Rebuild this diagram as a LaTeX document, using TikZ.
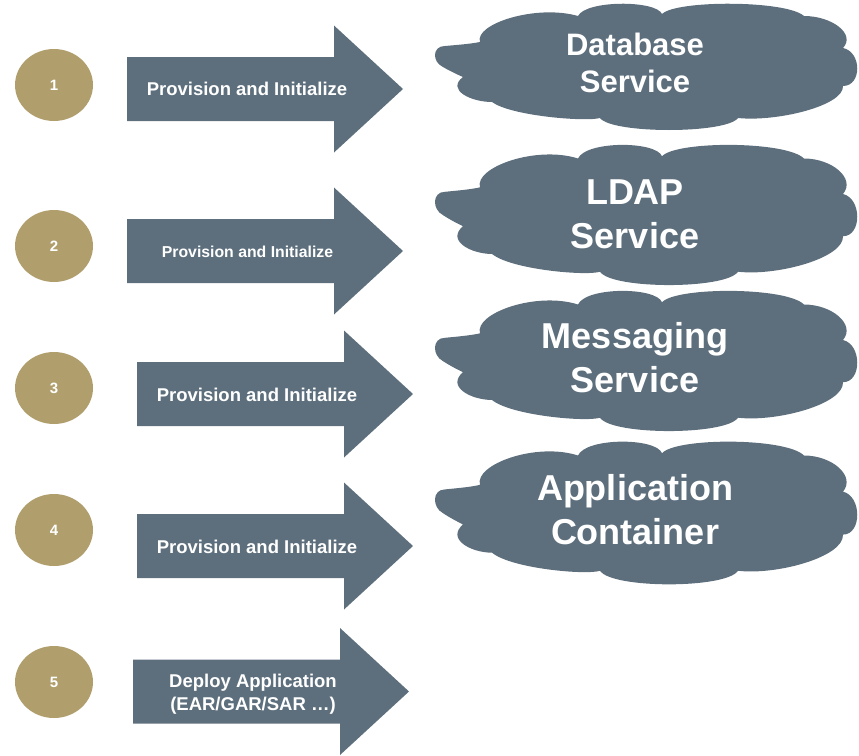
\documentclass[tikz,border=0pt]{standalone}
\usepackage{fontspec}
\setmainfont{Liberation Sans}
\usetikzlibrary{shapes.geometric}
\definecolor{slate}{RGB}{93,111,125}
\definecolor{goldtan}{RGB}{176,159,109}
\tikzset{
  cloudpic/.pic={\fill[slate] (-183,11)
     .. controls (-190,8) and (-198,4) .. (-203,1)
     .. controls (-214,-4) and (-214,-20) .. (-201,-20)
     .. controls (-190,-21) and (-176,-22) .. (-166,-24)
     .. controls (-172,-42) and (-110,-62) .. (-68,-50)
     .. controls (-60,-66) and (10,-66) .. (16,-52)
     .. controls (30,-66) and (140,-66) .. (158,-50)
     .. controls (186,-50) and (210,-32) .. (197,-18)
     .. controls (216,-14) and (216,20) .. (197,20)
     .. controls (198,40) and (130,56) .. (92,52)
     .. controls (80,68) and (-34,68) .. (-46,52)
     .. controls (-60,56) and (-135,50) .. (-154,36)
     .. controls (-175,36) and (-200,24) .. (-183,11) -- cycle;},
  arrowpic/.pic={\fill[slate] (0,-32) -- (207,-32) -- (207,-63.5) -- (276,0) -- (207,63.5) -- (207,32) -- (0,32) -- cycle;},
  numcirc/.style={ellipse, minimum width=78pt, minimum height=72pt, inner sep=0pt, fill=goldtan, text=white, font=\bfseries\fontsize{15}{17}\selectfont},
  arrowtext/.style={text=white, inner sep=0pt, align=center, font=\bfseries\fontsize{18.5}{23}\selectfont},
  cloudtext/.style={text=white, inner sep=0pt, align=center, font=\bfseries\fontsize{36}{44}\selectfont}
}
\begin{document}
\begin{tikzpicture}[x=1pt,y=-1pt]
\useasboundingbox (0,0) rectangle (859,755);
% clouds
\pic at (646,66) {cloudpic};
\pic[yscale=1.11] at (646,214) {cloudpic};
\pic[yscale=1.11] at (646,360) {cloudpic};
\pic[yscale=1.13] at (646,512) {cloudpic};
\node[cloudtext, font=\bfseries\fontsize{31}{37}\selectfont] (c1) at (635,63) {Database\\Service};
\node[cloudtext] (c2) at (635,214) {LDAP\\Service};
\node[cloudtext] (c3) at (635,358) {Messaging\\Service};
\node[cloudtext] (c4) at (635,510) {Application\\Container};
% arrows
\pic at (127,89) {arrowpic};
\pic at (127,251) {arrowpic};
\pic at (137,394) {arrowpic};
\pic at (137,546) {arrowpic};
\pic at (133,691.5) {arrowpic};
\node[arrowtext] (a1) at (247,89) {Provision and Initialize};
\node[arrowtext, font=\bfseries\fontsize{15.8}{19}\selectfont] (a2) at (247.5,252) {Provision and Initialize};
\node[arrowtext] (a3) at (257,395) {Provision and Initialize};
\node[arrowtext] (a4) at (257,547) {Provision and Initialize};
\node[arrowtext] (a5) at (253,694) {Deploy Application\\(EAR/GAR/SAR …)};
% circles
\node[numcirc] (n1) at (54,85) {1};
\node[numcirc] (n2) at (54,246) {2};
\node[numcirc] (n3) at (54,388) {3};
\node[numcirc] (n4) at (54,530) {4};
\node[numcirc] (n5) at (54,682) {5};
\end{tikzpicture}
\end{document}
